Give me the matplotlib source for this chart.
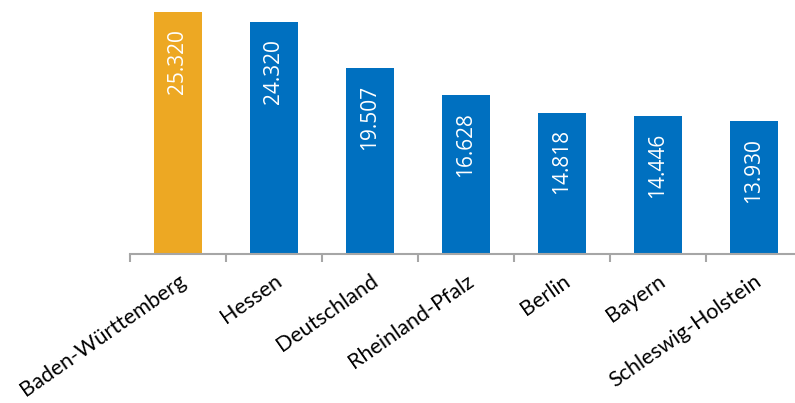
import matplotlib
matplotlib.use('Agg')
import matplotlib.pyplot as plt
import numpy as np

# data
laender = ['Baden-Württemberg', 'Hessen', 'Deutschland', 'Rheinland-Pfalz',
           'Berlin', 'Bayern', 'Schleswig-Holstein']
werte = [25.320, 24.320, 19.507, 16.628, 14.818, 14.446, 13.930]
labels = ['25.320', '24.320', '19.507', '16.628', '14.818', '14.446', '13.930']

orange = '#EDA823'
blau = '#0070C0'
farben = [orange] + [blau] * (len(werte) - 1)

fig = plt.figure(figsize=(7.95, 4.03), dpi=100)
ax = fig.add_axes([130 / 795, 1 - 254 / 403, 672 / 795, 248 / 403])

x = np.arange(len(laender))
bars = ax.bar(x, werte, width=0.5, color=farben, zorder=2)

# value labels, rotated inside the bars
for b, txt in zip(bars, labels):
    ax.text(b.get_x() + b.get_width() / 2, b.get_height() - 1.75, txt,
            rotation=90, ha='center', va='top', color='white',
            fontsize=15, family='Open Sans')

ax.set_xlim(-0.5, len(laender) - 0.5)
ax.set_ylim(0, 26)

for s in ['left', 'right', 'top']:
    ax.spines[s].set_visible(False)
ax.spines['bottom'].set_color('#A6A6A6')
ax.spines['bottom'].set_linewidth(1.5)
ax.set_yticks([])

# tick marks between categories, labels at the centres
ax.set_xticks(x)
ax.set_xticklabels(laender, rotation=35, ha='right', rotation_mode='anchor',
                   fontsize=15.5, family='Lato')
ax.tick_params(axis='x', which='major', length=0, pad=12)
ax.set_xticks(np.arange(-0.5, len(laender)), minor=True)
ax.tick_params(axis='x', which='minor', length=6, width=1.5, color='#A6A6A6')

fig.savefig('out.png', dpi=100)
